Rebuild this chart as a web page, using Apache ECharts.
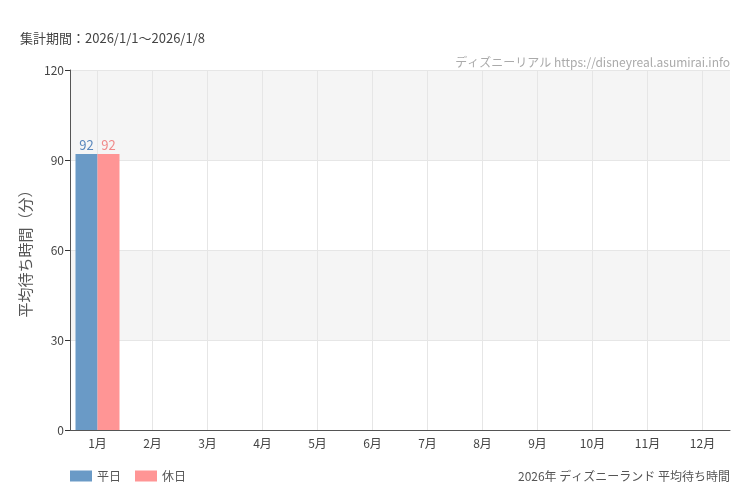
<!DOCTYPE html>
<html style="height:100%;width:100%">
<head>
<meta charset="UTF-8">
<title>2026年 ディズニーランド 平均待ち時間</title>
<style>
	body{ height:100%;width:100%; margin:0px; background:#ffffff; }
	#container{ width:750px; height:500px; }
</style>
<script src="https://cdn.jsdelivr.net/npm/echarts@6/dist/echarts.min.js"></script>
</head>
<body>
<div id="container"></div>
<script type="text/javascript">

var months = ['1月', '2月', '3月', '4月', '5月', '6月', '7月', '8月', '9月', '10月', '11月', '12月'];
var weekday = [92, null, null, null, null, null, null, null, null, null, null, null];
var holiday = [92, null, null, null, null, null, null, null, null, null, null, null];
var yTicks = [0, 30, 60, 90, 120];

var fontName = "'Noto Sans CJK JP', 'Noto Sans', sans-serif";
// narrow face for the watermark and the value labels
var narrowFont = "'Liberation Sans Narrow', 'Noto Sans CJK JP', sans-serif";

var myChart = echarts.init(document.getElementById('container'));
var option = {
	animation: false,
	backgroundColor: '#ffffff',
	textStyle: { fontFamily: fontName },
	title: [
		{ text: '集計期間：2026/1/1〜2026/1/8', left: 15, top: 27,
		  textStyle: { fontSize: 13, fontWeight: 'normal', color: '#444' } },
		{ text: 'ディズニーリアル https://disneyreal.asumirai.info', right: 15, top: 51,
		  textStyle: { fontSize: 12, fontWeight: 'normal', color: '#aaa', fontFamily: narrowFont } },
		{ text: '2026年 ディズニーランド 平均待ち時間', right: 15, top: 465,
		  textStyle: { fontSize: 12, fontWeight: 'normal', color: '#555' } }
	],
	legend: {
		left: 65, top: 465,
		icon: 'rect',
		itemWidth: 22, itemHeight: 11, itemGap: 14,
		textStyle: { fontSize: 12, color: '#555' },
		data: ['平日', '休日']
	},
	grid: { left: 70, right: 20, top: 70, bottom: 70, containLabel: false },
	xAxis: {
		type: 'category',
		data: months,
		axisLine: { lineStyle: { color: '#555' } },
		axisTick: { alignWithLabel: true, lineStyle: { color: '#333' } },
		axisLabel: { fontSize: 12, color: '#444', margin: 7 },
		splitLine: { show: true, alignWithLabel: true, lineStyle: { color: '#e6e6e6' } }
	},
	yAxis: {
		type: 'value',
		min: yTicks[0], max: yTicks[yTicks.length - 1], interval: 30,
		name: '平均待ち時間（分）',
		nameLocation: 'middle', nameGap: 32, nameRotate: 90,
		nameTextStyle: { fontSize: 15, color: '#555' },
		axisLine: { show: true, lineStyle: { color: '#555' } },
		axisTick: { show: true, lineStyle: { color: '#333' } },
		axisLabel: { fontSize: 12, color: '#444', margin: 6 },
		splitLine: { show: true, lineStyle: { color: '#e6e6e6' } },
		splitArea: { show: true, areaStyle: { color: ['#ffffff', '#f5f5f5'] } }
	},
	series: [
		{ name: '平日', type: 'bar', data: weekday, barWidth: 22, barGap: '0%',
		  itemStyle: { color: '#6a9ac6' },
		  label: { show: true, position: 'top', distance: 2, fontSize: 13, color: '#5a88bd', fontFamily: narrowFont } },
		{ name: '休日', type: 'bar', data: holiday, barWidth: 22, barGap: '0%',
		  itemStyle: { color: '#ff9595' },
		  label: { show: true, position: 'top', distance: 2, fontSize: 13, color: '#f08a8a', fontFamily: narrowFont } }
	]
};

myChart.setOption(option, true);
</script>
</body>
</html>
